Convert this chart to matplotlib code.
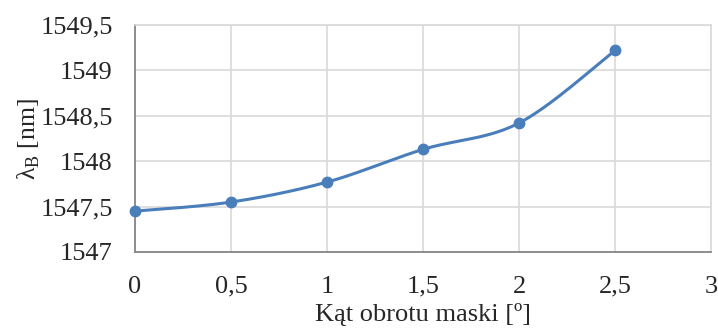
import numpy as np
import matplotlib
matplotlib.use("Agg")
import matplotlib.pyplot as plt
from matplotlib.ticker import FuncFormatter, MultipleLocator

angles = [0, 0.5, 1, 1.5, 2, 2.5]
wavelengths = [1547.45, 1547.55, 1547.77, 1548.13, 1548.42, 1549.22]
x_ticks = [0, 0.5, 1, 1.5, 2, 2.5, 3]
y_ticks = [1547, 1547.5, 1548, 1548.5, 1549, 1549.5]

plt.rcParams['font.family'] = ['Liberation Serif', 'DejaVu Serif']
plt.rcParams['mathtext.fontset'] = 'custom'
plt.rcParams['mathtext.rm'] = 'Liberation Serif'

def smooth(xs, ys, n=30):
    xs = np.asarray(xs, float); ys = np.asarray(ys, float)
    px = np.concatenate([[xs[0]], xs, [xs[-1]]])
    py = np.concatenate([[ys[0]], ys, [ys[-1]]])
    ox, oy = [], []
    t = np.linspace(0, 1, n)
    for i in range(1, len(px) - 2):
        p0 = np.array([px[i], py[i]]); p3 = np.array([px[i+1], py[i+1]])
        p1 = p0 + (np.array([px[i+1], py[i+1]]) - np.array([px[i-1], py[i-1]])) / 6
        p2 = p3 - (np.array([px[i+2], py[i+2]]) - np.array([px[i], py[i]])) / 6
        b = ((1-t)**3)[:, None]*p0 + (3*(1-t)**2*t)[:, None]*p1 + (3*(1-t)*t**2)[:, None]*p2 + (t**3)[:, None]*p3
        ox.extend(b[:, 0]); oy.extend(b[:, 1])
    return ox, oy

fig = plt.figure(figsize=(7.18, 3.29), dpi=100)
ax = fig.add_axes([135/718, 1-252/329, (711-135)/718, (252-25)/329])

sx, sy = smooth(angles, wavelengths)
color = '#4a7ebb'
ax.plot(sx, sy, color=color, lw=2.2, solid_capstyle='round', zorder=3)
ax.plot(angles, wavelengths, 'o', color=color, ms=7.5, zorder=4, clip_on=False)

ax.set_xlim(0, 3)
ax.set_ylim(1547, 1549.5)
ax.set_xticks(x_ticks)
ax.set_yticks(y_ticks)
fmt = FuncFormatter(lambda v, p: ('%g' % v).replace('.', ','))
ax.xaxis.set_major_formatter(fmt)
ax.yaxis.set_major_formatter(fmt)
ax.grid(True, color='#d9d9d9', lw=1.2)
ax.set_axisbelow(True)
for s in ['top', 'right']:
    ax.spines[s].set_color('#d9d9d9')
    ax.spines[s].set_linewidth(1.2)
for s in ['left', 'bottom']:
    ax.spines[s].set_color('#868686')
    ax.spines[s].set_linewidth(1.3)
ax.tick_params(length=0, labelsize=19, colors='#262626')
ax.tick_params(axis='y', pad=16)
ax.tick_params(axis='x', pad=17)
ax.set_xlabel('Kąt obrotu maski [º]', fontsize=19, color='#262626', labelpad=4)
ax.set_ylabel('λ$_\\mathregular{B}$ [nm]', fontsize=18.5, color='#262626', labelpad=-1)

fig.savefig('out.png', dpi=100)
